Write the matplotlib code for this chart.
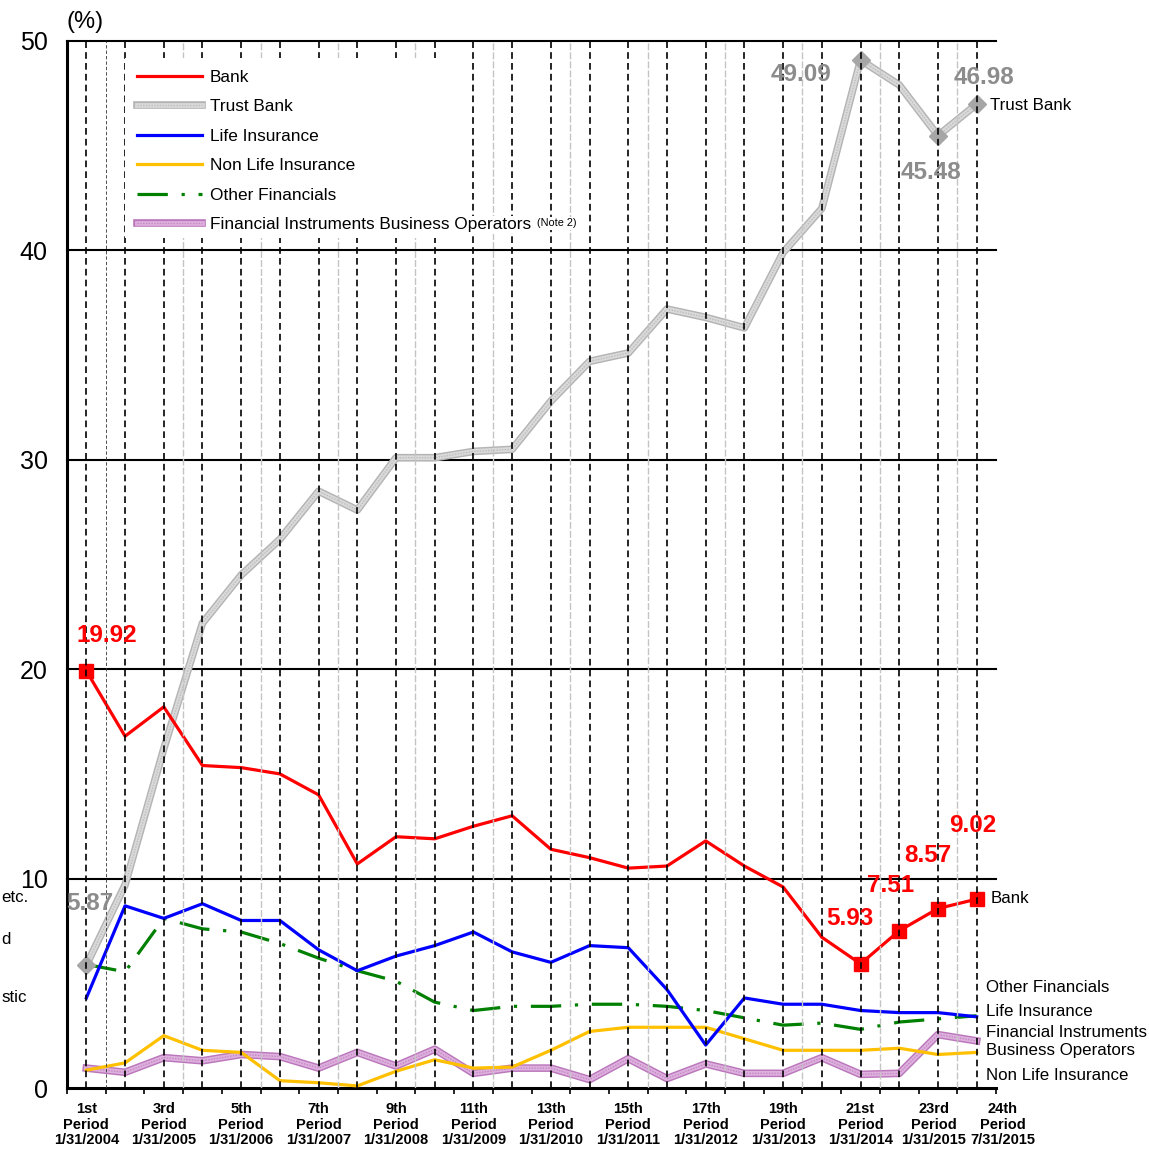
import matplotlib
matplotlib.use("Agg")
import matplotlib.pyplot as plt
from matplotlib.lines import Line2D
from matplotlib.patches import Rectangle

plt.rcParams['font.family'] = ['Liberation Sans', 'DejaVu Sans']

# values (%)
periods = list(range(1, 25))
bank = [19.92, 16.8, 18.2, 15.4, 15.3, 15.0, 14.0, 10.7, 12.0, 11.9, 12.5, 13.0,
        11.4, 11.0, 10.5, 10.6, 11.8, 10.6, 9.6, 7.2, 5.93, 7.51, 8.57, 9.02]
trust_bank = [5.87, 9.7, 16.2, 22.2, 24.5, 26.2, 28.5, 27.6, 30.1, 30.1, 30.4, 30.5,
              32.8, 34.7, 35.1, 37.2, 36.8, 36.3, 39.9, 42.0, 49.09, 47.9, 45.48, 46.98]
life_ins = [4.3, 8.7, 8.1, 8.8, 8.0, 8.0, 6.6, 5.6, 6.3, 6.8, 7.45, 6.5,
            6.0, 6.8, 6.7, 4.7, 2.05, 4.3, 4.0, 4.0, 3.7, 3.6, 3.6, 3.4]
non_life = [0.85, 1.2, 2.5, 1.8, 1.7, 0.35, 0.25, 0.1, 0.8, 1.35, 0.95, 1.0,
            1.8, 2.7, 2.9, 2.9, 2.9, 2.35, 1.8, 1.8, 1.8, 1.9, 1.6, 1.7]
other_fin = [5.9, 5.55, 8.1, 7.6, 7.45, 6.9, 6.2, 5.6, 5.1, 4.1, 3.7, 3.9,
             3.9, 4.0, 4.0, 3.9, 3.7, 3.35, 3.0, 3.1, 2.8, 3.15, 3.3, 3.45]
fin_instr = [0.95, 0.75, 1.45, 1.3, 1.6, 1.5, 0.95, 1.7, 1.05, 1.85, 0.7, 0.95,
             0.95, 0.4, 1.4, 0.45, 1.15, 0.7, 0.7, 1.45, 0.65, 0.7, 2.55, 2.25]

label_periods = [1, 3, 5, 7, 9, 11, 13, 15, 17, 19, 21, 23, 24]
label_ordinals = ['1st', '3rd', '5th', '7th', '9th', '11th', '13th', '15th', '17th',
                  '19th', '21st', '23rd', '24th']
label_dates = ['1/31/2004', '1/31/2005', '1/31/2006', '1/31/2007', '1/31/2008',
               '1/31/2009', '1/31/2010', '1/31/2011', '1/31/2012', '1/31/2013',
               '1/31/2014', '1/31/2015', '7/31/2015']

bank_marked = [1, 21, 22, 23, 24]
trust_marked = [1, 21, 23, 24]

RED = '#ff0000'
GREY_TXT = '#8c8c8c'
TRUST = ('#b4b4b4', '#dadada', '#bcbcbc')
FIN = ('#bb77bb', '#deb0de', '#c488c4')

fig = plt.figure(figsize=(11.49, 11.52), dpi=100)
ax = fig.add_axes([67 / 1149, 1 - 1088 / 1152, 929 / 1149, 1047 / 1152])
ax.set_xlim(0.5, 24.5)
ax.set_ylim(0, 50)

# grid
for y in [10, 20, 30, 40, 50]:
    ax.axhline(y, color='black', lw=1.5, zorder=1, clip_on=False)
for p in periods:
    ax.axvline(p, color='black', lw=1.2, ls=(0, (4, 2.5)), zorder=6)
ax.axvline(1.5, color='#333333', lw=0.6, ls=(0, (4, 2.5)), zorder=6)
for p in periods[2:23:2]:
    ax.axvline(p + 0.5, color='#c4c4c4', lw=1.0, ls=(0, (5, 1.5)), zorder=6)


def textured(y, cols, z):
    ax.plot(periods, y, color=cols[0], lw=5.5, zorder=z)
    ax.plot(periods, y, color=cols[1], lw=3.4, zorder=z)
    ax.plot(periods, y, color=cols[2], lw=1.0, ls=(0, (1, 1)), zorder=z)


# series
textured(fin_instr, FIN, 3)
ax.plot(periods, non_life, color='#ffc000', lw=2.3, zorder=3)
ax.plot(periods, other_fin, color='#008000', lw=2.3, ls=(0, (9.5, 4.3, 1, 4.3)), zorder=3)
ax.plot(periods, life_ins, color='#0000ff', lw=2.3, zorder=4)
textured(trust_bank, TRUST, 4)
ax.plot(periods, bank, color=RED, lw=2.3, zorder=5)

ax.plot(trust_marked, [trust_bank[p - 1] for p in trust_marked], 'D', ms=9,
        color='#a6a6a6', zorder=5)
ax.plot(bank_marked, [bank[p - 1] for p in bank_marked], 's', ms=10,
        color=RED, zorder=5)

# value labels (offsets in pixels from their points)
bank_notes = {1: (20, 35), 21: (-11, 45), 22: (-9, 45), 23: (-10, 53), 24: (-4, 74)}
trust_notes = {1: (4, 62), 21: (-60, -14), 23: (-7, -37), 24: (7, 27)}
for p, off in bank_notes.items():
    ax.annotate(f'{bank[p - 1]:.2f}', (p, bank[p - 1]), xytext=off,
                textcoords='offset pixels', ha='center', va='center',
                fontsize=17.5, fontweight='bold', color=RED, zorder=8)
for p, off in trust_notes.items():
    ax.annotate(f'{trust_bank[p - 1]:.2f}', (p, trust_bank[p - 1]), xytext=off,
                textcoords='offset pixels', ha='center', va='center',
                fontsize=17.5, fontweight='bold', color=GREY_TXT, zorder=8)

# right-hand series names
right_names = [('Trust Bank', 24.34, 46.94), ('Bank', 24.37, 9.07),
               ('Other Financials', 24.24, 4.82), ('Life Insurance', 24.24, 3.63),
               ('Financial Instruments', 24.24, 2.63), ('Business Operators', 24.24, 1.77),
               ('Non Life Insurance', 24.24, 0.62)]
for name, x, y in right_names:
    ax.text(x, y, name, fontsize=12.2, ha='left', va='center', clip_on=False)

# axes styling
for s in ['top', 'right']:
    ax.spines[s].set_visible(False)
ax.spines['left'].set_linewidth(2.2)
ax.spines['bottom'].set_linewidth(2.2)
ax.set_yticks([0, 10, 20, 30, 40, 50])
ax.tick_params(axis='y', length=0, labelsize=18, pad=14)
ax.set_xticks([p + 0.5 for p in range(0, 25)])
ax.set_xticklabels([])
ax.tick_params(axis='x', length=4, width=1.2, direction='out')

for p, o, d in zip(label_periods, label_ordinals, label_dates):
    dx = 26 if p == 24 else (-4 if p == 23 else 0)
    ax.annotate(f'{o}\nPeriod\n{d}', (p, 0), xytext=(dx, -14),
                textcoords='offset pixels', ha='center', va='top',
                fontsize=10.5, fontweight='bold', linespacing=1.15,
                annotation_clip=False)

ax.annotate('(%)', (0, 1), xycoords='axes fraction', xytext=(0, 8),
            textcoords='offset pixels', fontsize=17, ha='left', va='bottom')
fig.text(0.001, 1 - 897 / 1152, 'etc.', fontsize=12.2, va='center')
fig.text(0.001, 1 - 940 / 1152, 'd', fontsize=12.2, va='center')
fig.text(0.001, 1 - 997 / 1152, 'stic', fontsize=12.2, va='center')


# legend: white box narrower than the longest entry, like the original
def combo(cols):
    return (Line2D([], [], color=cols[0], lw=5.5), Line2D([], [], color=cols[1], lw=3.4),
            Line2D([], [], color=cols[2], lw=1.0, ls=(0, (1, 1))))


ax.add_patch(Rectangle((0.0624, 0.812), 0.35, 0.172, transform=ax.transAxes,
                       facecolor='white', edgecolor='none', zorder=8.5))
handles = [Line2D([], [], color=RED, lw=2.3),
           combo(TRUST),
           Line2D([], [], color='#0000ff', lw=2.3),
           Line2D([], [], color='#ffc000', lw=2.3),
           Line2D([], [], color='#008000', lw=2.3, ls=(0, (9.5, 4.3, 1, 4.3))),
           combo(FIN)]
labels = ['Bank', 'Trust Bank', 'Life Insurance', 'Non Life Insurance', 'Other Financials',
          'Financial Instruments Business Operators']
leg = ax.legend(handles, labels, loc='upper left', bbox_to_anchor=(0.066, 0.981),
                borderaxespad=0, borderpad=0.5, handlelength=3.8, handletextpad=0.45,
                labelspacing=0.84, fontsize=12.4, frameon=False)
leg.set_zorder(9)
last = leg.get_texts()[-1]
last.set_bbox(dict(facecolor='white', edgecolor='none', pad=1))

# small "(Note 2)" superscript after the last legend entry
fig.canvas.draw()
bb = last.get_window_extent()
fig.text((bb.x1 + 6) / fig.bbox.width, (bb.y1 - 1) / fig.bbox.height, '(Note 2)',
         fontsize=7.8, ha='left', va='top', zorder=10,
         bbox=dict(facecolor='white', edgecolor='none', pad=1))

fig.savefig('out.png', dpi=100)
